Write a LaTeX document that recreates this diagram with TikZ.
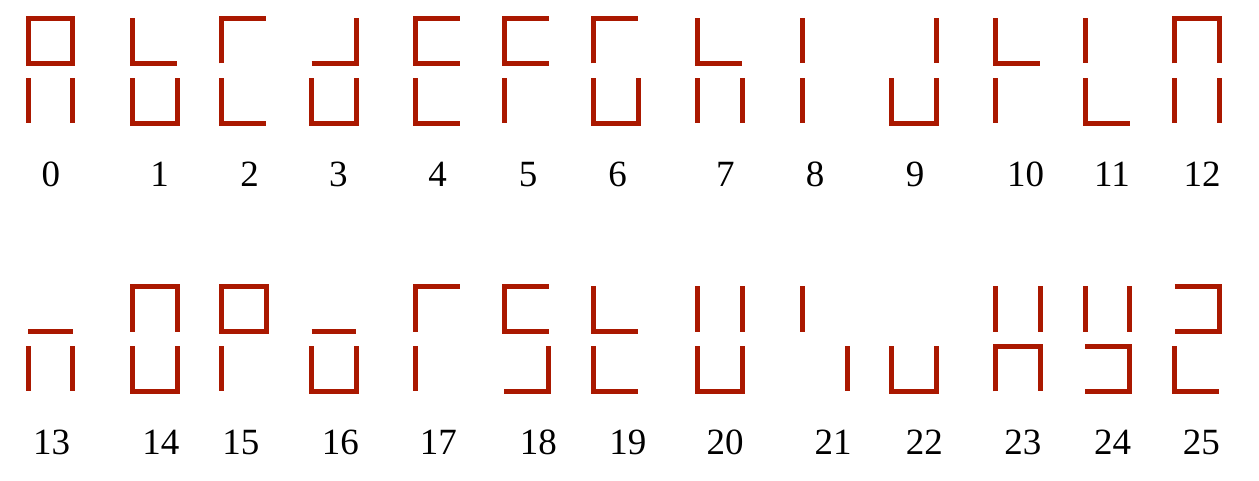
\documentclass[tikz,border=0pt]{standalone}
\usepackage{fontspec}
\setmainfont{Liberation Serif}
\definecolor{segred}{RGB}{170,24,0}
\tikzset{
  seg/.style={line width=5pt, draw=segred, line cap=butt, line join=miter},
  lbl/.style={anchor=base, inner sep=0pt, font=\fontsize{37}{40}\selectfont, text=black}
}
\begin{document}
\begin{tikzpicture}[x=1pt,y=-1pt]
\useasboundingbox (0,0) rectangle (1259,481);
% local glyph points
\def\GL#1#2#3{\begin{scope}[shift={(#1,#2)}]
  \coordinate (A) at (0,18.3);   \coordinate (B) at (44.5,18.3);
  \coordinate (C) at (0,63.5);   \coordinate (D) at (44.5,63.5);
  \coordinate (E) at (0,78.3);   \coordinate (F) at (44.5,78.3);
  \coordinate (G) at (0,123.3);  \coordinate (H) at (44.5,123.3);
  #3
\end{scope}}
% ---- row 1
\GL{28.2}{0}{\draw[seg] (A)--(B)--(D)--(C)--cycle; \draw[seg] (E)--(G); \draw[seg] (F)--(H);}
\GL{132.5}{0}{\draw[seg] (A)--(C)--(D); \draw[seg] (E)--(G)--(H)--(F);}
\GL{221.5}{0}{\draw[seg] (C)--(A)--(B); \draw[seg] (E)--(G)--(H);}
\GL{311.5}{0}{\draw[seg] (C)--(D)--(B); \draw[seg] (E)--(G)--(H)--(F);}
\GL{415.2}{0}{\draw[seg] (B)--(A)--(C)--(D); \draw[seg] (E)--(G)--(H);}
\GL{504.2}{0}{\draw[seg] (B)--(A)--(C)--(D); \draw[seg] (E)--(G);}
\GL{593.5}{0}{\draw[seg] (C)--(A)--(B); \draw[seg] (E)--(G)--(H)--(F);}
\GL{697.8}{0}{\draw[seg] (A)--(C)--(D); \draw[seg] (E)--(G); \draw[seg] (F)--(H);}
\GL{802.5}{0}{\draw[seg] (A)--(C); \draw[seg] (E)--(G);}
\GL{891.8}{0}{\draw[seg] (B)--(D); \draw[seg] (E)--(G)--(H)--(F);}
\GL{995.8}{0}{\draw[seg] (A)--(C)--(D); \draw[seg] (E)--(G);}
\GL{1085.3}{0}{\draw[seg] (A)--(C); \draw[seg] (E)--(G)--(H);}
\GL{1174.8}{0}{\draw[seg] (C)--(A)--(B)--(D); \draw[seg] (E)--(G); \draw[seg] (F)--(H);}
% ---- row 2
\GL{28.2}{268}{\draw[seg] (C)--(D); \draw[seg] (E)--(G); \draw[seg] (F)--(H);}
\GL{132.5}{268}{\draw[seg] (C)--(A)--(B)--(D); \draw[seg] (E)--(G)--(H)--(F);}
\GL{221.5}{268}{\draw[seg] (A)--(B)--(D)--(C)--cycle; \draw[seg] (E)--(G);}
\GL{311.5}{268}{\draw[seg] (C)--(D); \draw[seg] (E)--(G)--(H)--(F);}
\GL{415.2}{268}{\draw[seg] (C)--(A)--(B); \draw[seg] (E)--(G);}
\GL{504.2}{268}{\draw[seg] (B)--(A)--(C)--(D); \draw[seg] (G)--(H)--(F);}
\GL{593.5}{268}{\draw[seg] (A)--(C)--(D); \draw[seg] (E)--(G)--(H);}
\GL{697.8}{268}{\draw[seg] (A)--(C); \draw[seg] (B)--(D); \draw[seg] (E)--(G)--(H)--(F);}
\GL{802.5}{268}{\draw[seg] (A)--(C); \draw[seg] (F)--(H);}
\GL{891.8}{268}{\draw[seg] (E)--(G)--(H)--(F);}
\GL{995.8}{268}{\draw[seg] (A)--(C); \draw[seg] (B)--(D); \draw[seg] (G)--(E)--(F)--(H);}
\GL{1085.3}{268}{\draw[seg] (A)--(C); \draw[seg] (B)--(D); \draw[seg] (E)--(F)--(H)--(G);}
\GL{1174.8}{268}{\draw[seg] (A)--(B)--(D)--(C); \draw[seg] (E)--(G)--(H);}
% ---- labels
\node[lbl] (l0)  at (50.8,187) {0};
\node[lbl] (l1)  at (159.5,187) {1};
\node[lbl] (l2)  at (249.5,187) {2};
\node[lbl] (l3)  at (338.3,187) {3};
\node[lbl] (l4)  at (437.5,187) {4};
\node[lbl] (l5)  at (528,187) {5};
\node[lbl] (l6)  at (617.5,187) {6};
\node[lbl] (l7)  at (725.3,187) {7};
\node[lbl] (l8)  at (815,187) {8};
\node[lbl] (l9)  at (915,187) {9};
\node[lbl] (l10) at (1025.5,187) {10};
\node[lbl] (l11) at (1112,187) {11};
\node[lbl] (l12) at (1202.2,187) {12};
\node[lbl] (l13) at (51.7,454) {13};
\node[lbl] (l14) at (160.8,454) {14};
\node[lbl] (l15) at (240.8,454) {15};
\node[lbl] (l16) at (340.3,454) {16};
\node[lbl] (l17) at (438.3,454) {17};
\node[lbl] (l18) at (538.3,454) {18};
\node[lbl] (l19) at (627.8,454) {19};
\node[lbl] (l20) at (725,454) {20};
\node[lbl] (l21) at (833,454) {21};
\node[lbl] (l22) at (924.3,454) {22};
\node[lbl] (l23) at (1022.8,454) {23};
\node[lbl] (l24) at (1112.5,454) {24};
\node[lbl] (l25) at (1201.3,454) {25};
\end{tikzpicture}
\end{document}
